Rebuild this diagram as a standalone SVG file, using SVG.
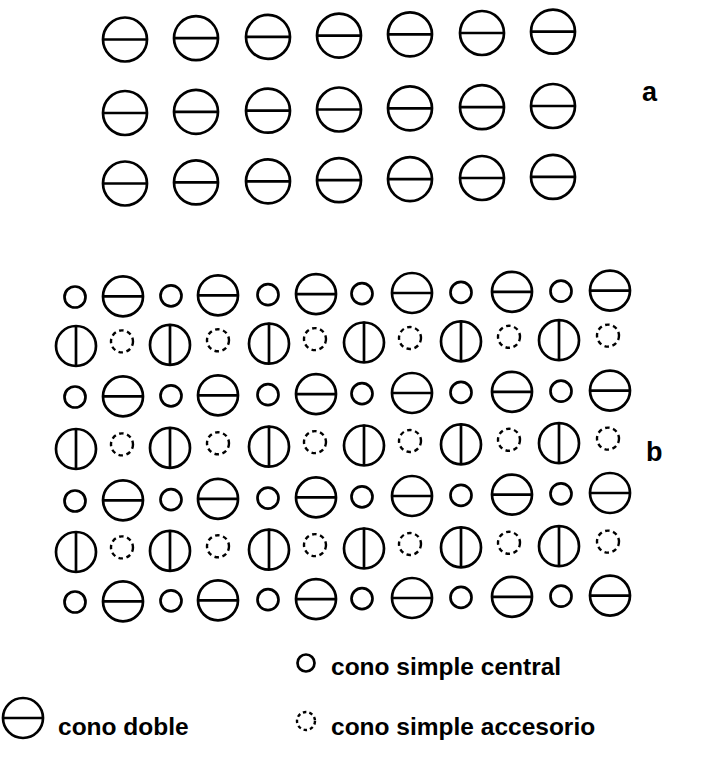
<svg xmlns="http://www.w3.org/2000/svg" width="728" height="764" viewBox="0 0 728 764">
<style>
.s{fill:none;stroke:#000;stroke-width:2.7}
.d{fill:none;stroke:#000;stroke-width:2.4;stroke-dasharray:4.5 3.6}
.t{font-family:"Liberation Sans",Arial,sans-serif;font-weight:bold;fill:#000}
</style>
<defs>
<g id="A"><circle class="s" r="22"/><line class="s" x1="-22" y1="0" x2="23" y2="0"/></g>
<g id="H"><circle class="s" r="20"/><line class="s" x1="-20" y1="0" x2="21" y2="0"/></g>
<g id="V"><circle class="s" r="20"/><line class="s" x1="0" y1="-21" x2="0" y2="20"/></g>
<circle id="S" class="s" r="10.5"/>
<circle id="D" class="d" r="11"/>
</defs>
<rect width="728" height="764" fill="#fff"/>
<g id="grid-a">
<g id="a-row1">
<use href="#A" x="125" y="39.5"/><use href="#A" x="196" y="38.2"/><use href="#A" x="268" y="36.9"/><use href="#A" x="339" y="35.6"/><use href="#A" x="410" y="34.3"/><use href="#A" x="482" y="33"/><use href="#A" x="553" y="31.7"/>
</g>
<g id="a-row2">
<use href="#A" x="125" y="113"/><use href="#A" x="196" y="111.8"/><use href="#A" x="268" y="110.7"/><use href="#A" x="339" y="109.5"/><use href="#A" x="410" y="108.3"/><use href="#A" x="482" y="107.2"/><use href="#A" x="553" y="106"/>
</g>
<g id="a-row3">
<use href="#A" x="125" y="183.5"/><use href="#A" x="196" y="182.4"/><use href="#A" x="268" y="181.3"/><use href="#A" x="339" y="180.2"/><use href="#A" x="410" y="179.1"/><use href="#A" x="482" y="178"/><use href="#A" x="553" y="176.9"/>
</g>
</g>
<text id="label-a" class="t" x="642" y="101" font-size="27">a</text>
<g id="grid-b">
<g id="b-row1">
<use href="#S" x="75" y="297"/><use href="#H" x="123" y="296.4"/><use href="#S" x="171" y="295.8"/><use href="#H" x="218" y="295.3"/><use href="#S" x="268" y="294.7"/><use href="#H" x="316" y="294.1"/><use href="#S" x="362" y="293.6"/><use href="#H" x="412" y="293"/><use href="#S" x="461" y="292.4"/><use href="#H" x="512" y="291.8"/><use href="#S" x="561" y="291.2"/><use href="#H" x="610" y="290.6"/>
</g>
<g id="b-row2">
<use href="#V" x="76" y="346"/><use href="#D" x="122" y="341.4"/><use href="#V" x="170" y="344.9"/><use href="#D" x="218" y="340.3"/><use href="#V" x="269" y="343.7"/><use href="#D" x="315" y="339.1"/><use href="#V" x="364" y="342.5"/><use href="#D" x="410" y="338"/><use href="#V" x="461" y="341.4"/><use href="#D" x="509" y="336.8"/><use href="#V" x="559" y="340.2"/><use href="#D" x="608" y="335.6"/>
</g>
<g id="b-row3">
<use href="#S" x="75" y="397"/><use href="#H" x="123" y="396.4"/><use href="#S" x="171" y="395.8"/><use href="#H" x="218" y="395.3"/><use href="#S" x="268" y="394.7"/><use href="#H" x="316" y="394.1"/><use href="#S" x="362" y="393.6"/><use href="#H" x="412" y="393"/><use href="#S" x="461" y="392.4"/><use href="#H" x="512" y="391.8"/><use href="#S" x="561" y="391.2"/><use href="#H" x="610" y="390.6"/>
</g>
<g id="b-row4">
<use href="#V" x="76" y="449"/><use href="#D" x="122" y="444.4"/><use href="#V" x="170" y="447.9"/><use href="#D" x="218" y="443.3"/><use href="#V" x="269" y="446.7"/><use href="#D" x="315" y="442.1"/><use href="#V" x="364" y="445.5"/><use href="#D" x="410" y="441"/><use href="#V" x="461" y="444.4"/><use href="#D" x="509" y="439.8"/><use href="#V" x="559" y="443.2"/><use href="#D" x="608" y="438.6"/>
</g>
<g id="b-row5">
<use href="#S" x="75" y="501"/><use href="#H" x="123" y="500.3"/><use href="#S" x="171" y="499.6"/><use href="#H" x="218" y="498.8"/><use href="#S" x="268" y="498.1"/><use href="#H" x="316" y="497.4"/><use href="#S" x="362" y="496.8"/><use href="#H" x="412" y="496"/><use href="#S" x="461" y="495.3"/><use href="#H" x="512" y="494.6"/><use href="#S" x="561" y="493.8"/><use href="#H" x="610" y="493"/>
</g>
<g id="b-row6">
<use href="#V" x="76" y="552"/><use href="#D" x="122" y="547.4"/><use href="#V" x="170" y="550.9"/><use href="#D" x="218" y="546.3"/><use href="#V" x="269" y="549.7"/><use href="#D" x="315" y="545.1"/><use href="#V" x="364" y="548.5"/><use href="#D" x="410" y="544"/><use href="#V" x="461" y="547.4"/><use href="#D" x="509" y="542.8"/><use href="#V" x="559" y="546.2"/><use href="#D" x="608" y="541.6"/>
</g>
<g id="b-row7">
<use href="#S" x="75" y="602"/><use href="#H" x="123" y="601.4"/><use href="#S" x="171" y="600.8"/><use href="#H" x="218" y="600.3"/><use href="#S" x="268" y="599.7"/><use href="#H" x="316" y="599.1"/><use href="#S" x="362" y="598.6"/><use href="#H" x="412" y="598"/><use href="#S" x="461" y="597.4"/><use href="#H" x="512" y="596.8"/><use href="#S" x="561" y="596.2"/><use href="#H" x="610" y="595.6"/>
</g>
</g>
<text id="label-b" class="t" x="646" y="461" font-size="27">b</text>
<g id="legend-doble">
<use href="#H" x="23" y="718"/>
<text class="t" x="58" y="735" font-size="24.5">cono doble</text>
</g>
<g id="legend-central">
<circle class="s" cx="306" cy="663" r="8.5"/>
<text class="t" x="331" y="675" font-size="24.5">cono simple central</text>
</g>
<g id="legend-accesorio">
<circle class="d" cx="306" cy="721" r="9" style="stroke-dasharray:3.5 3"/>
<text class="t" x="331" y="735" font-size="24.5">cono simple accesorio</text>
</g>
</svg>
